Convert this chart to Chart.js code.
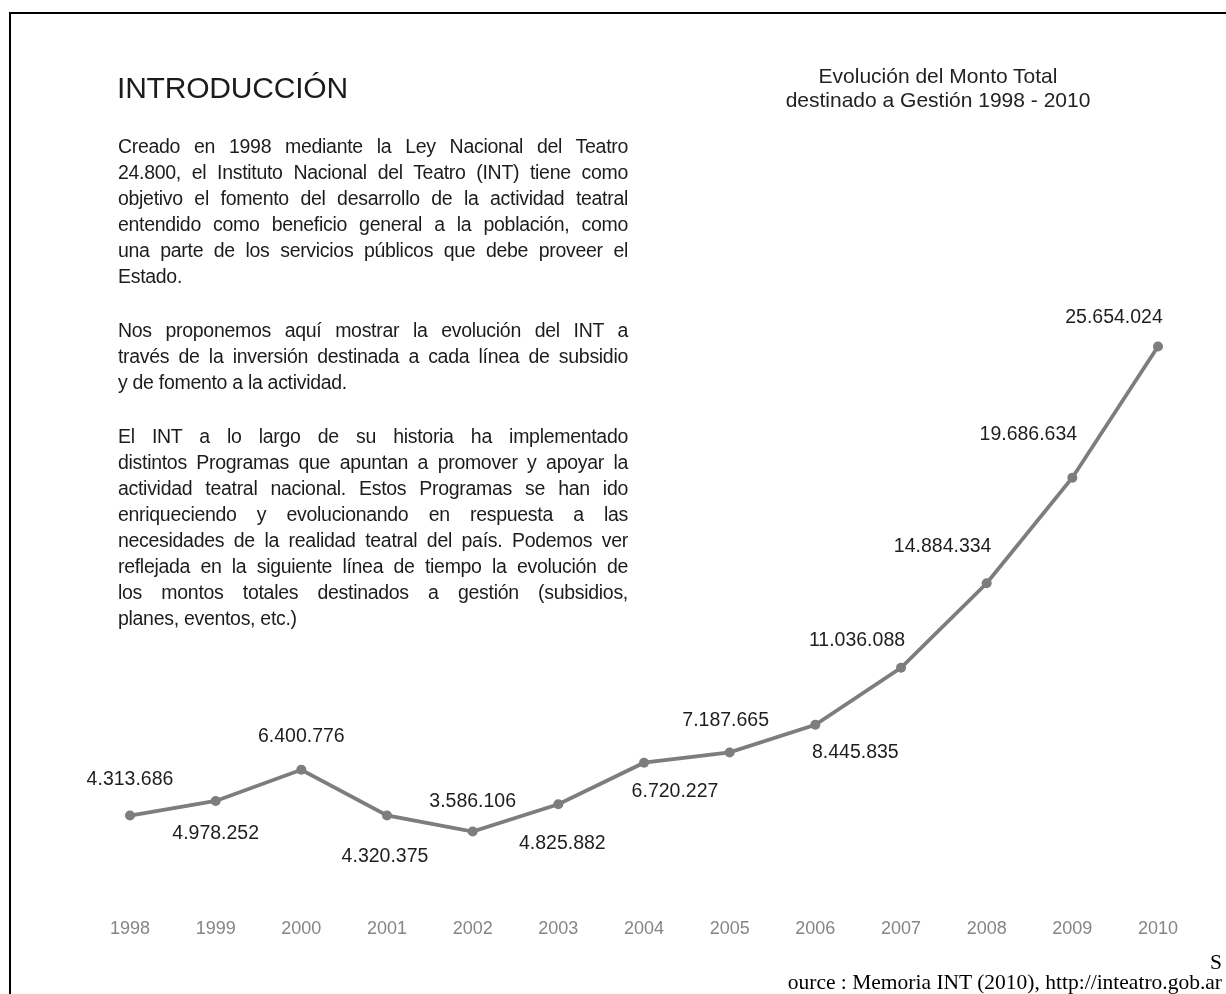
<!DOCTYPE html>
<html>
<head>
<meta charset="utf-8">
<script src="https://cdn.jsdelivr.net/npm/chart.js@4/dist/chart.umd.min.js"></script>
<style>
  html, body { margin: 0; padding: 0; background: #fff; }
  body { width: 1226px; height: 994px; position: relative; overflow: hidden; font-family: "Liberation Sans", Arial, sans-serif; color: #1c1c1c; }
  #frame { position: absolute; left: 9px; top: 12px; right: -10px; bottom: -10px; border-top: 2px solid #000; border-left: 2px solid #000; }
  #chart { position: absolute; left: 0; top: 0; }
  #heading { position: absolute; left: 117px; top: 70px; font-size: 30px; line-height: 36px; letter-spacing: -0.2px; }
  #intro { position: absolute; left: 118px; top: 133px; width: 510px; font-size: 19.5px; line-height: 26px; }
  #intro p { margin: 0 0 28px 0; }
  #intro .ln { display: block; width: max-content; white-space: nowrap; letter-spacing: -0.3px; }
  #title { position: absolute; left: 738px; width: 400px; top: 64px; text-align: center; font-size: 21px; line-height: 24px; color: #222; }
  #source { position: absolute; right: 4px; top: 952px; text-align: right; font-family: "Liberation Serif", "Times New Roman", serif; font-size: 21.5px; line-height: 20px; color: #000; }
</style>
</head>
<body>
<div id="frame"></div>
<canvas id="chart" width="1226" height="994"></canvas>

<div id="heading">INTRODUCCIÓN</div>

<div id="intro">
  <p>
    <span class="ln j">Creado en 1998 mediante la Ley Nacional del Teatro</span>
    <span class="ln j">24.800, el Instituto Nacional del Teatro (INT) tiene como</span>
    <span class="ln j">objetivo el fomento del desarrollo de la actividad teatral</span>
    <span class="ln j">entendido como beneficio general a la población, como</span>
    <span class="ln j">una parte de los servicios públicos que debe proveer el</span>
    <span class="ln">Estado.</span>
  </p>
  <p>
    <span class="ln j">Nos proponemos aquí mostrar la evolución del INT a</span>
    <span class="ln j">través de la inversión destinada a cada línea de subsidio</span>
    <span class="ln">y de fomento a la actividad.</span>
  </p>
  <p>
    <span class="ln j">El INT a lo largo de su historia ha implementado</span>
    <span class="ln j">distintos Programas que apuntan a promover y apoyar la</span>
    <span class="ln j">actividad teatral nacional. Estos Programas se han ido</span>
    <span class="ln j">enriqueciendo y evolucionando en respuesta a las</span>
    <span class="ln j">necesidades de la realidad teatral del país. Podemos ver</span>
    <span class="ln j">reflejada en la siguiente línea de tiempo la evolución de</span>
    <span class="ln j">los montos totales destinados a gestión (subsidios,</span>
    <span class="ln">planes, eventos, etc.)</span>
  </p>
</div>

<div id="title">Evolución del Monto Total<br>destinado a Gestión 1998 - 2010</div>

<div id="source">S<br>ource : Memoria INT (2010), http://inteatro.gob.ar</div>

<script>
// data
const years = ["1998","1999","2000","2001","2002","2003","2004","2005","2006","2007","2008","2009","2010"];
const montos = [4313686, 4978252, 6400776, 4320375, 3586106, 4825882, 6720227, 7187665, 8445835, 11036088, 14884334, 19686634, 25654024];

// where each value label sits relative to its point (px)
const labelDx = [0, 0, 0, -2, 0, 4, 31, -4, 40, -44, -44, -44, -44];
const labelDy = [-36, 33, -33, 41, -30, 39, 29, -32, 28, -27, -37, -43, -29];

// justify the intro lines to the column width
const COL = 510;
document.querySelectorAll("#intro .ln").forEach(el => {
  let w = el.getBoundingClientRect().width;
  const txt = el.textContent;
  if (w > COL) {
    el.style.letterSpacing = (-0.3 + (COL - w) / txt.length) + "px";
    w = el.getBoundingClientRect().width;
  }
  if (el.classList.contains("j")) {
    const spaces = (txt.match(/ /g) || []).length;
    if (spaces) el.style.wordSpacing = ((COL - w) / spaces) + "px";
  }
});

function fmt(v) {
  return String(v).replace(/\B(?=(\d{3})+(?!\d))/g, ".");
}

// value labels plugin
const valueLabels = {
  id: "valueLabels",
  afterDatasetsDraw(chart) {
    const ctx = chart.ctx;
    const meta = chart.getDatasetMeta(0);
    ctx.save();
    ctx.font = '19.5px "Liberation Sans", Arial, sans-serif';
    ctx.fillStyle = "#1e1e1e";
    ctx.textAlign = "center";
    ctx.textBaseline = "middle";
    meta.data.forEach((pt, i) => {
      ctx.fillText(fmt(montos[i]), pt.x + labelDx[i], pt.y + labelDy[i]);
    });
    ctx.restore();
  }
};

new Chart(document.getElementById("chart"), {
  type: "line",
  data: {
    labels: years,
    datasets: [{
      data: montos,
      borderColor: "#7d7d7d",
      backgroundColor: "#7d7d7d",
      borderWidth: 3.8,
      pointRadius: 5,
      pointBackgroundColor: "#7d7d7d",
      pointBorderWidth: 0,
      tension: 0,
      fill: false
    }]
  },
  options: {
    responsive: false,
    animation: false,
    layout: { padding: { left: 130, right: 68, top: 251, bottom: 54 } },
    plugins: { legend: { display: false }, tooltip: { enabled: false } },
    scales: {
      x: {
        offset: false,
        grid: { display: false },
        border: { display: false },
        ticks: {
          color: "#858585",
          padding: 0,
          maxRotation: 0,
          autoSkip: false,
          font: { family: '"Liberation Sans", Arial, sans-serif', size: 18 }
        }
      },
      y: {
        display: false,
        min: 0,
        max: 30000000
      }
    }
  },
  plugins: [valueLabels]
});
</script>
</body>
</html>
